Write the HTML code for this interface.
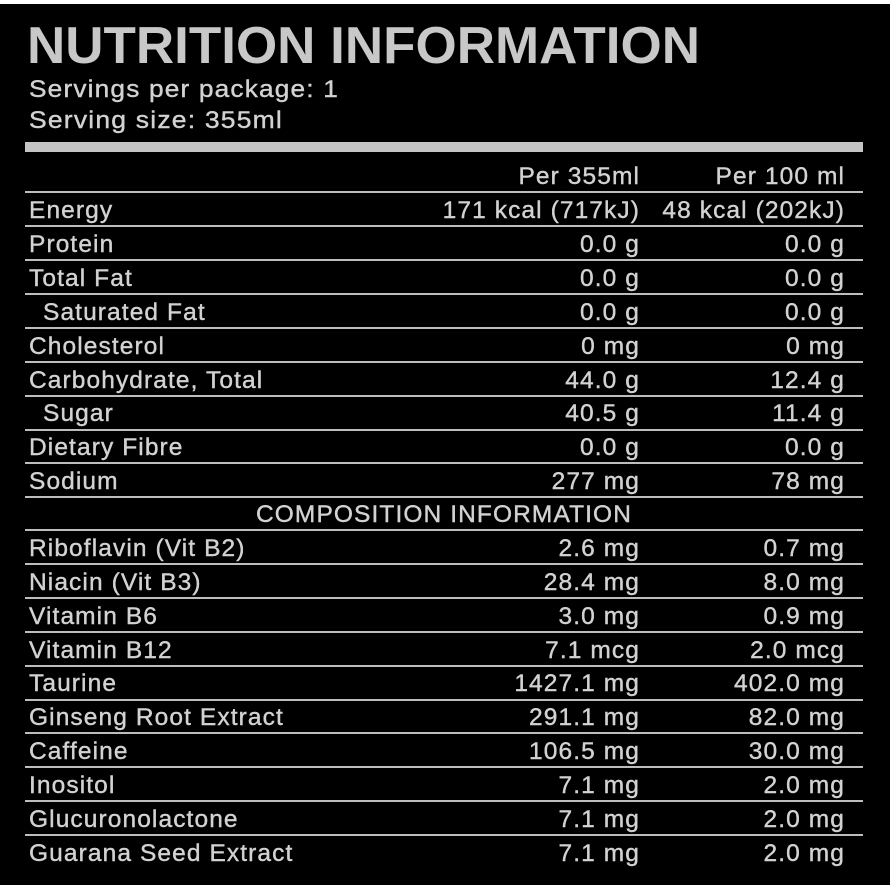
<!DOCTYPE html>
<html><head><meta charset="utf-8"><style>
html,body{margin:0;padding:0;background:#fff;}
svg{display:block;}
text{font-family:"Liberation Sans",sans-serif;fill:#d2d2d2;}
.t{font-size:24.5px;letter-spacing:1.1px;stroke:#d2d2d2;stroke-width:0.4px;}
</style></head><body>
<svg width="890" height="890" viewBox="0 0 890 890">
<rect x="0" y="4" width="890" height="881" fill="#000"/>
<text x="27" y="63" style="font-size:52px;font-weight:bold;fill:#c8c8c8" textLength="673" lengthAdjust="spacingAndGlyphs">NUTRITION INFORMATION</text>
<text class="t" x="29" y="97" textLength="310" lengthAdjust="spacingAndGlyphs">Servings per package: 1</text>
<text class="t" x="29" y="128" textLength="254" lengthAdjust="spacingAndGlyphs">Serving size: 355ml</text>
<rect x="25" y="142" width="838" height="10" fill="#c4c4c4"/>
<g stroke="#bdbdbd" stroke-width="2">
<line x1="25" x2="863" y1="192" y2="192"/><line x1="25" x2="863" y1="226" y2="226"/>
<line x1="25" x2="863" y1="260" y2="260"/><line x1="25" x2="863" y1="294" y2="294"/>
<line x1="25" x2="863" y1="328" y2="328"/><line x1="25" x2="863" y1="362" y2="362"/>
<line x1="25" x2="863" y1="396" y2="396"/><line x1="25" x2="863" y1="430" y2="430"/>
<line x1="25" x2="863" y1="463" y2="463"/><line x1="25" x2="863" y1="497" y2="497"/>
<line x1="25" x2="863" y1="530" y2="530"/><line x1="25" x2="863" y1="564" y2="564"/>
<line x1="25" x2="863" y1="598" y2="598"/><line x1="25" x2="863" y1="632" y2="632"/>
<line x1="25" x2="863" y1="666" y2="666"/><line x1="25" x2="863" y1="700" y2="700"/>
<line x1="25" x2="863" y1="733" y2="733"/><line x1="25" x2="863" y1="767" y2="767"/>
<line x1="25" x2="863" y1="801" y2="801"/><line x1="25" x2="863" y1="835" y2="835"/>
</g>
<g text-anchor="end" class="t">
<text class="t" x="640" y="184">Per 355ml</text><text class="t" x="845" y="184">Per 100 ml</text>
<text class="t" x="640" y="218">171 kcal (717kJ)</text><text class="t" x="845" y="218">48 kcal (202kJ)</text>
<text class="t" x="640" y="252">0.0 g</text><text class="t" x="845" y="252">0.0 g</text>
<text class="t" x="640" y="286">0.0 g</text><text class="t" x="845" y="286">0.0 g</text>
<text class="t" x="640" y="320">0.0 g</text><text class="t" x="845" y="320">0.0 g</text>
<text class="t" x="640" y="354">0 mg</text><text class="t" x="845" y="354">0 mg</text>
<text class="t" x="640" y="388">44.0 g</text><text class="t" x="845" y="388">12.4 g</text>
<text class="t" x="640" y="421">40.5 g</text><text class="t" x="845" y="421">11.4 g</text>
<text class="t" x="640" y="455">0.0 g</text><text class="t" x="845" y="455">0.0 g</text>
<text class="t" x="640" y="489">277 mg</text><text class="t" x="845" y="489">78 mg</text>
<text class="t" x="640" y="556">2.6 mg</text><text class="t" x="845" y="556">0.7 mg</text>
<text class="t" x="640" y="590">28.4 mg</text><text class="t" x="845" y="590">8.0 mg</text>
<text class="t" x="640" y="624">3.0 mg</text><text class="t" x="845" y="624">0.9 mg</text>
<text class="t" x="640" y="658">7.1 mcg</text><text class="t" x="845" y="658">2.0 mcg</text>
<text class="t" x="640" y="691">1427.1 mg</text><text class="t" x="845" y="691">402.0 mg</text>
<text class="t" x="640" y="725">291.1 mg</text><text class="t" x="845" y="725">82.0 mg</text>
<text class="t" x="640" y="759">106.5 mg</text><text class="t" x="845" y="759">30.0 mg</text>
<text class="t" x="640" y="793">7.1 mg</text><text class="t" x="845" y="793">2.0 mg</text>
<text class="t" x="640" y="827">7.1 mg</text><text class="t" x="845" y="827">2.0 mg</text>
<text class="t" x="640" y="861">7.1 mg</text><text class="t" x="845" y="861">2.0 mg</text>
</g>
<g>
<text class="t" x="29" y="218">Energy</text>
<text class="t" x="29" y="252">Protein</text>
<text class="t" x="29" y="286">Total Fat</text>
<text class="t" x="43" y="320">Saturated Fat</text>
<text class="t" x="29" y="354">Cholesterol</text>
<text class="t" x="29" y="388">Carbohydrate, Total</text>
<text class="t" x="43" y="421">Sugar</text>
<text class="t" x="29" y="455">Dietary Fibre</text>
<text class="t" x="29" y="489">Sodium</text>
<text class="t" x="444" y="522" text-anchor="middle">COMPOSITION INFORMATION</text>
<text class="t" x="29" y="556">Riboflavin (Vit B2)</text>
<text class="t" x="29" y="590">Niacin (Vit B3)</text>
<text class="t" x="29" y="624">Vitamin B6</text>
<text class="t" x="29" y="658">Vitamin B12</text>
<text class="t" x="29" y="691">Taurine</text>
<text class="t" x="29" y="725">Ginseng Root Extract</text>
<text class="t" x="29" y="759">Caffeine</text>
<text class="t" x="29" y="793">Inositol</text>
<text class="t" x="29" y="827">Glucuronolactone</text>
<text class="t" x="29" y="861">Guarana Seed Extract</text>
</g>
</svg>
</body></html>
